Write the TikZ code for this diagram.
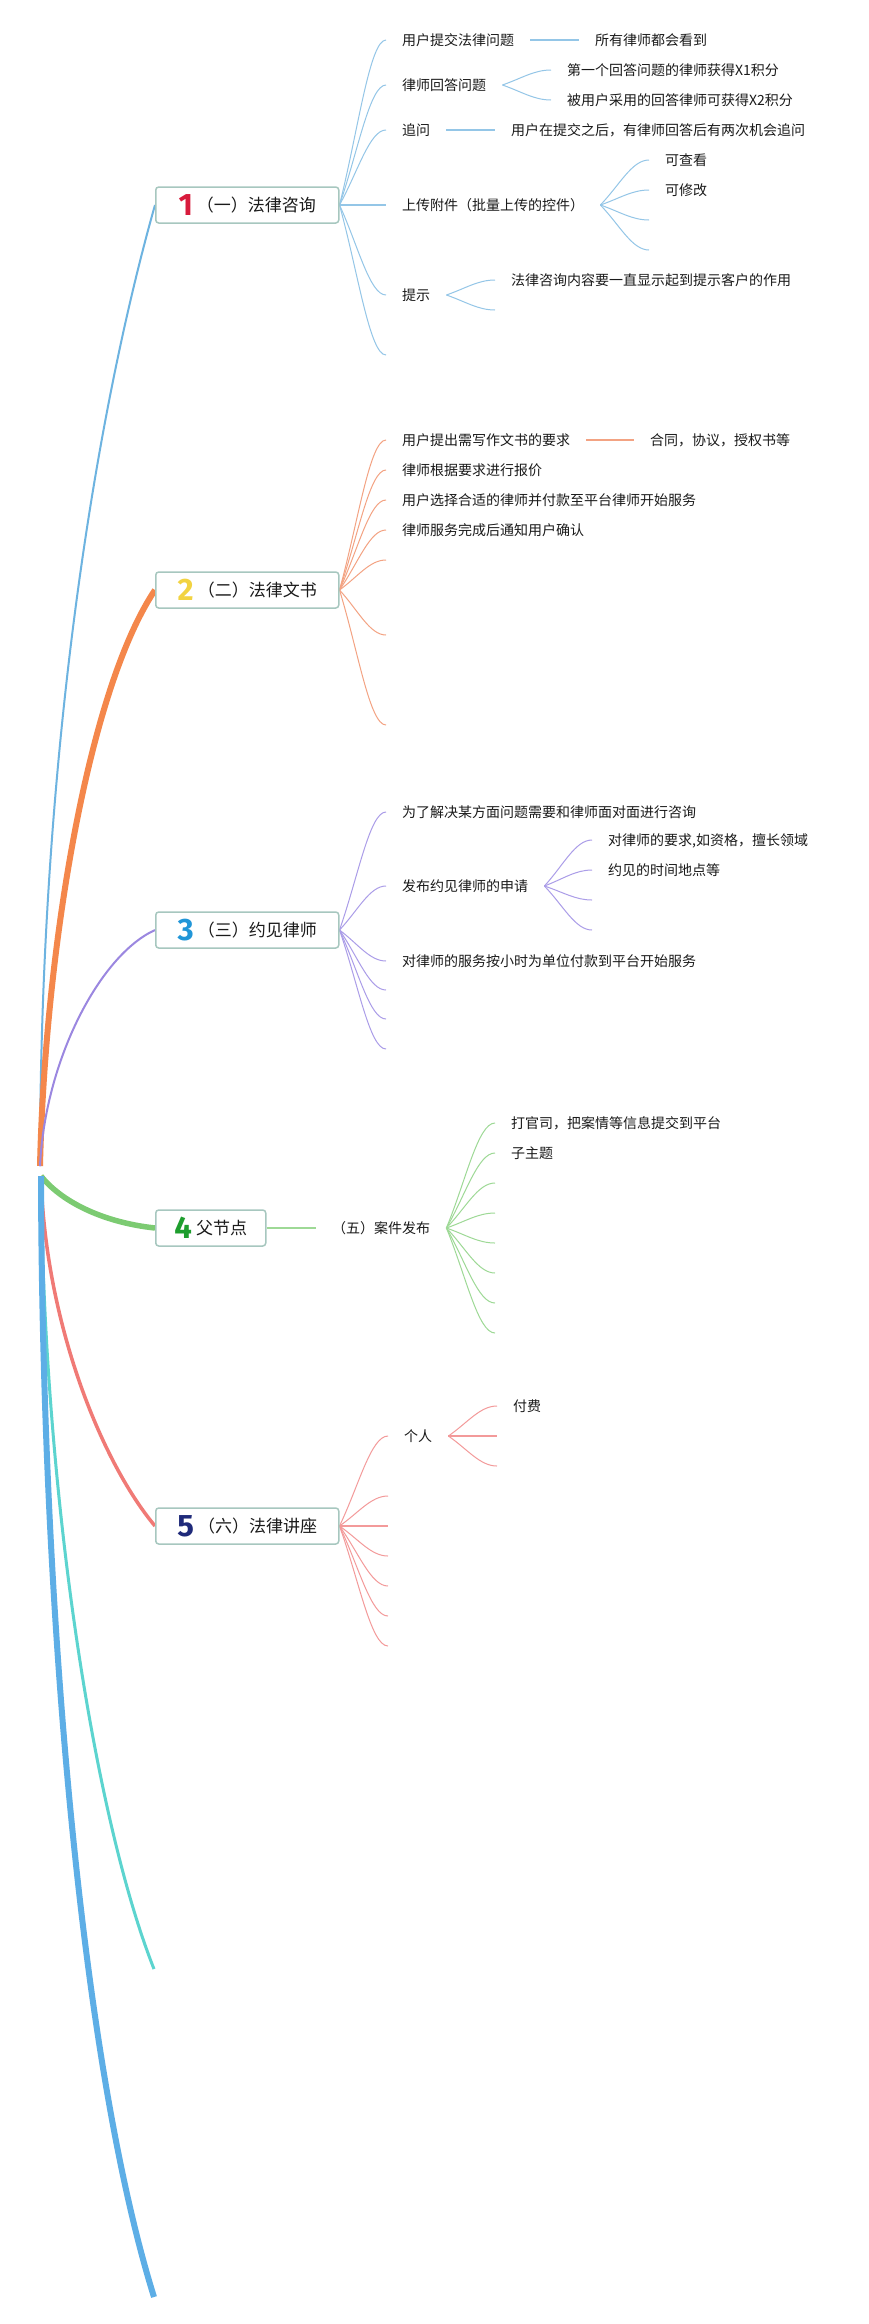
\documentclass[tikz,border=0pt]{standalone}
\usepackage{fontspec}
\newfontfamily\cjk{Noto Sans CJK SC}
\newfontfamily\numf{Fira Sans}
\usetikzlibrary{calc,backgrounds}
\definecolor{txt}{HTML}{1A1A1A}
\definecolor{boxc}{HTML}{A7C7BF}
\definecolor{d1c}{HTML}{D81B3C}
\definecolor{d2c}{HTML}{F2D341}
\definecolor{d3c}{HTML}{2196D8}
\definecolor{d4c}{HTML}{1E9E2E}
\definecolor{d5c}{HTML}{1F2A7A}
\definecolor{m1c}{HTML}{6DB3E0}
\definecolor{m2c}{HTML}{F4874B}
\definecolor{m3c}{HTML}{9B87E0}
\definecolor{m4c}{HTML}{7CCB72}
\definecolor{m5c}{HTML}{F07A76}
\definecolor{m6c}{HTML}{5CD4CF}
\definecolor{m7c}{HTML}{5DAEE6}
\definecolor{s1c}{HTML}{94C6E7}
\definecolor{s2c}{HTML}{F3A383}
\definecolor{s3c}{HTML}{AB9DE8}
\definecolor{s4c}{HTML}{9ED996}
\definecolor{s5c}{HTML}{F39A9A}
\newcommand\dig[2]{\raisebox{-4.2pt}{\numf\bfseries\fontsize{31}{31}\selectfont\color{#1}#2}\hspace{4pt}}
\newcommand\mmfan[3]{\draw[#1] let \p1=(#2), \p2=(#3) in (\p1) .. controls ({\x1+0.4*(\x2-\x1)},{\y1+0.45*(\y2-\y1)}) and ({\x1+0.65*(\x2-\x1)},\y2) .. (\p2);}
\begin{document}
\begin{tikzpicture}[x=1pt,y=-1pt,
  topic/.style={draw=boxc, line width=1.5pt, rounded corners=3pt, fill=white, minimum height=36pt, text height=17pt, text depth=4pt, inner xsep=0pt, inner ysep=0pt, anchor=west, font=\cjk\fontsize{17}{20}\selectfont, text=txt},
  sub/.style={anchor=west, inner xsep=16pt, inner ysep=1pt, text height=12pt, text depth=1.5pt, font=\cjk\fontsize{14}{16}\selectfont, text=txt},
  l1/.style={draw=s1c, line width=1pt}, l1s/.style={draw=s1c, line width=1.6pt},
  l2/.style={draw=s2c, line width=1pt}, l2s/.style={draw=s2c, line width=1.6pt},
  l3/.style={draw=s3c, line width=1pt}, l3s/.style={draw=s3c, line width=1.6pt},
  l4/.style={draw=s4c, line width=1pt}, l4s/.style={draw=s4c, line width=1.8pt},
  l5/.style={draw=s5c, line width=1pt}, l5s/.style={draw=s5c, line width=1.6pt},
  m1/.style={draw=m1c, line width=2pt},
  m2/.style={draw=m2c, line width=6pt},
  m3/.style={draw=m3c, line width=2pt},
  m4/.style={draw=m4c, line width=5.5pt},
  m5/.style={draw=m5c, line width=3.5pt},
  m6/.style={draw=m6c, line width=3pt},
  m7/.style={draw=m7c, line width=6pt}]
\useasboundingbox (0,0) rectangle (869,2324);

% main topics
\node[topic, minimum width=183pt] (n1) at (155,205) {\dig{d1c}{1}（一）法律咨询};
\node[topic, minimum width=183pt] (n2) at (155,590) {\dig{d2c}{2}（二）法律文书};
\node[topic, minimum width=183pt] (n3) at (155,930) {\dig{d3c}{3}（三）约见律师};
\node[topic, minimum width=110pt] (n4) at (155,1228) {\dig{d4c}{4}父节点};
\node[topic, minimum width=183pt] (n5) at (155,1526) {\dig{d5c}{5}（六）法律讲座};

\coordinate (rootU) at (40,1166);
\coordinate (rootD) at (41,1176);
\coordinate (end6) at (154,1969);
\coordinate (end7) at (154,2297);

% branch 1
\node[sub] (a1) at (386,40) {用户提交法律问题};
\node[sub] (a1x) at (579,40) {所有律师都会看到};
\node[sub] (a2) at (386,85) {律师回答问题};
\node[sub] (a2a) at (551,70) {第一个回答问题的律师获得X1积分};
\node[sub] (a2b) at (551,100) {被用户采用的回答律师可获得X2积分};
\node[sub] (a3) at (386,130) {追问};
\node[sub] (a3x) at (495,130) {用户在提交之后，有律师回答后有两次机会追问};
\node[sub] (a4) at (386,205) {上传附件（批量上传的控件）};
\node[sub] (a4a) at (649,160) {可查看};
\node[sub] (a4b) at (649,190) {可修改};
\coordinate (a4c) at (649,220);
\coordinate (a4d) at (649,250);
\node[sub] (a5) at (386,295) {提示};
\node[sub] (a5a) at (495,280) {法律咨询内容要一直显示起到提示客户的作用};
\coordinate (a5b) at (495,310);
\coordinate (a6) at (386,355);

% branch 2
\node[sub] (b1) at (386,440) {用户提出需写作文书的要求};
\node[sub] (b1x) at (634,440) {合同，协议，授权书等};
\node[sub] (b2) at (386,470) {律师根据要求进行报价};
\node[sub] (b3) at (386,500) {用户选择合适的律师并付款至平台律师开始服务};
\node[sub] (b4) at (386,530) {律师服务完成后通知用户确认};
\coordinate (b5) at (386,560);
\coordinate (b6) at (386,635);
\coordinate (b7) at (386,725);

% branch 3
\node[sub] (c1) at (386,812) {为了解决某方面问题需要和律师面对面进行咨询};
\node[sub] (c2) at (386,886) {发布约见律师的申请};
\node[sub] (c2a) at (592,840) {对律师的要求,如资格，擅长领域};
\node[sub] (c2b) at (592,870) {约见的时间地点等};
\coordinate (c2c) at (592,900);
\coordinate (c2d) at (592,930);
\node[sub] (c3) at (386,961) {对律师的服务按小时为单位付款到平台开始服务};
\coordinate (c4) at (386,990);
\coordinate (c5) at (386,1019);
\coordinate (c6) at (386,1049);

% branch 4
\node[sub] (d1) at (316,1228) {（五）案件发布};
\node[sub] (d1a) at (495,1123) {打官司，把案情等信息提交到平台};
\node[sub] (d1b) at (495,1153) {子主题};
\coordinate (d1c) at (495,1183);
\coordinate (d1d) at (495,1213);
\coordinate (d1e) at (495,1243);
\coordinate (d1f) at (495,1273);
\coordinate (d1g) at (495,1303);
\coordinate (d1h) at (495,1333);

% branch 5
\node[sub] (e1) at (388,1436) {个人};
\node[sub] (e1a) at (497,1406) {付费};
\coordinate (e1b) at (497,1436);
\coordinate (e1c) at (497,1466);
\coordinate (e2) at (388,1496);
\coordinate (e3) at (388,1526);
\coordinate (e4) at (388,1556);
\coordinate (e5) at (388,1586);
\coordinate (e6) at (388,1616);
\coordinate (e7) at (388,1646);

\begin{scope}[on background layer]
\fill[white] (0,0) rectangle (869,2324);
% main branches
\draw[m1] (rootU) .. controls (40,750) and (97,410) .. (n1.west);
\draw[m2] (rootU) .. controls (45,950) and (88,690) .. (n2.west);
\draw[m3] (rootU) .. controls (45,1060) and (100,955) .. (n3.west);
\draw[m4] (rootD) .. controls (60,1200) and (100,1222) .. (n4.west);
\draw[m5] (rootD) .. controls (45,1320) and (100,1460) .. (n5.west);
\draw[m6] (rootD) .. controls (44,1500) and (95,1820) .. (end6);
\draw[m7] (rootD) .. controls (42,1600) and (80,2060) .. (end7);
% branch 1 connectors
\mmfan{l1}{n1.east}{a1.west}
\mmfan{l1}{n1.east}{a2.west}
\mmfan{l1}{n1.east}{a3.west}
\draw[l1s] (n1.east) -- (a4.west);
\mmfan{l1}{n1.east}{a5.west}
\mmfan{l1}{n1.east}{a6}
\draw[l1s] (a1.east) -- (a1x.west);
\mmfan{l1}{a2.east}{a2a.west}
\mmfan{l1}{a2.east}{a2b.west}
\draw[l1s] (a3.east) -- (a3x.west);
\mmfan{l1}{a4.east}{a4a.west}
\mmfan{l1}{a4.east}{a4b.west}
\mmfan{l1}{a4.east}{a4c}
\mmfan{l1}{a4.east}{a4d}
\mmfan{l1}{a5.east}{a5a.west}
\mmfan{l1}{a5.east}{a5b}
% branch 2 connectors
\mmfan{l2}{n2.east}{b1.west}
\mmfan{l2}{n2.east}{b2.west}
\mmfan{l2}{n2.east}{b3.west}
\mmfan{l2}{n2.east}{b4.west}
\mmfan{l2}{n2.east}{b5}
\mmfan{l2}{n2.east}{b6}
\mmfan{l2}{n2.east}{b7}
\draw[l2s] (b1.east) -- (b1x.west);
% branch 3 connectors
\mmfan{l3}{n3.east}{c1.west}
\mmfan{l3}{n3.east}{c2.west}
\mmfan{l3}{n3.east}{c3.west}
\mmfan{l3}{n3.east}{c4}
\mmfan{l3}{n3.east}{c5}
\mmfan{l3}{n3.east}{c6}
\mmfan{l3}{c2.east}{c2a.west}
\mmfan{l3}{c2.east}{c2b.west}
\mmfan{l3}{c2.east}{c2c}
\mmfan{l3}{c2.east}{c2d}
% branch 4 connectors
\draw[l4s] (n4.east) -- (d1.west);
\mmfan{l4}{d1.east}{d1a.west}
\mmfan{l4}{d1.east}{d1b.west}
\mmfan{l4}{d1.east}{d1c}
\mmfan{l4}{d1.east}{d1d}
\mmfan{l4}{d1.east}{d1e}
\mmfan{l4}{d1.east}{d1f}
\mmfan{l4}{d1.east}{d1g}
\mmfan{l4}{d1.east}{d1h}
% branch 5 connectors
\mmfan{l5}{n5.east}{e1.west}
\mmfan{l5}{n5.east}{e2}
\draw[l5s] (n5.east) -- (e3);
\mmfan{l5}{n5.east}{e4}
\mmfan{l5}{n5.east}{e5}
\mmfan{l5}{n5.east}{e6}
\mmfan{l5}{n5.east}{e7}
\mmfan{l5}{e1.east}{e1a.west}
\draw[l5s] (e1.east) -- (e1b);
\mmfan{l5}{e1.east}{e1c}
\end{scope}
\end{tikzpicture}
\end{document}
